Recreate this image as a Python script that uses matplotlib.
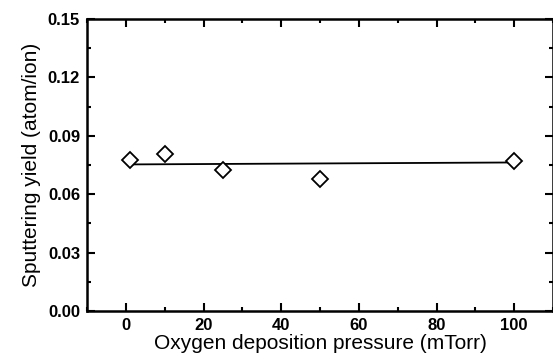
import matplotlib.pyplot as plt
from matplotlib.ticker import MultipleLocator

pressure = [1, 10, 25, 50, 100]
yield_vals = [0.0777, 0.0804, 0.0725, 0.0679, 0.0770]
fit_x = [1, 100]
fit_y = [0.0753, 0.0763]

plt.rcParams['font.family'] = ['Liberation Sans', 'DejaVu Sans']

fig = plt.figure(figsize=(5.53, 3.58), dpi=100)
ax = fig.add_axes([87 / 553, 47 / 358, 466 / 553, 292 / 358])

ax.plot(fit_x, fit_y, c='k', lw=1.3)
ax.plot(pressure, yield_vals, ls='none', marker='D', ms=8.5,
        mfc='white', mec='k', mew=1.3)

ax.set_xlim(-10, 110)
ax.set_ylim(0, 0.15)
ax.xaxis.set_major_locator(MultipleLocator(20))
ax.xaxis.set_minor_locator(MultipleLocator(10))
ax.yaxis.set_minor_locator(MultipleLocator(0.015))
ax.set_yticks([0, 0.03, 0.06, 0.09, 0.12, 0.15])
ax.set_yticklabels(['0.00', '0.03', '0.06', '0.09', '0.12', '0.15'])

ax.tick_params(which='both', direction='in', top=True, right=True,
               width=1.5, labelsize=12, pad=5)
ax.tick_params(which='major', length=6)
ax.tick_params(which='minor', length=3)
for lbl in ax.get_xticklabels() + ax.get_yticklabels():
    lbl.set_fontweight('bold')
for sp in ax.spines.values():
    sp.set_linewidth(1.8)

ax.set_xlabel('Oxygen deposition pressure (mTorr)', fontsize=15, labelpad=1)
ax.set_ylabel('Sputtering yield (atom/ion)', fontsize=15, labelpad=5)

fig.savefig('out.png', dpi=100)
plt.close()
